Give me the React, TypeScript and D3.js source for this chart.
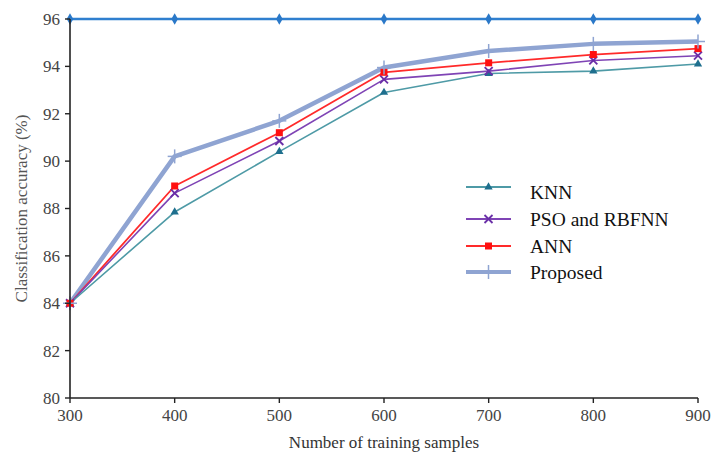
import React from "react";
import * as d3 from "d3";

const samples = [300, 400, 500, 600, 700, 800, 900];
const knn = [84, 87.85, 90.4, 92.9, 93.7, 93.8, 94.1];
const psoRbfnn = [84, 88.65, 90.85, 93.45, 93.8, 94.25, 94.45];
const ann = [84, 88.95, 91.2, 93.75, 94.15, 94.5, 94.75];
const proposed = [84, 90.2, 91.7, 93.95, 94.65, 94.95, 95.05];
const topLine = [96, 96, 96, 96, 96, 96, 96];
const yTicks = [80, 82, 84, 86, 88, 90, 92, 94, 96];
const xTicks = [300, 400, 500, 600, 700, 800, 900];

const W = 712, H = 455;
const L = 70, R = 698, T = 19, B = 398;

const series = [
  { name: "KNN", values: knn, color: "#4e9aa6", mcolor: "#1e6f8e", width: 1.6, marker: "tri" },
  { name: "PSO and RBFNN", values: psoRbfnn, color: "#7f44b5", mcolor: "#6a2fa8", width: 1.6, marker: "x" },
  { name: "ANN", values: ann, color: "#ff2a2a", mcolor: "#ff1010", width: 1.8, marker: "sq" },
  { name: "Proposed", values: proposed, color: "#8fa4d2", mcolor: "#8fa4d2", width: 4.5, marker: "plus" },
];

function Marker({ type, x, y, color }: { type: string; x: number; y: number; color: string }) {
  if (type === "tri") {
    const s = d3.symbol(d3.symbolTriangle, 30)();
    return <path d={s || ""} transform={`translate(${x},${y})`} fill={color} />;
  }
  if (type === "sq") {
    return <rect x={x - 3.5} y={y - 3.5} width={7} height={7} fill={color} />;
  }
  if (type === "x") {
    return (
      <g stroke={color} strokeWidth={1.8}>
        <line x1={x - 4} y1={y - 4} x2={x + 4} y2={y + 4} />
        <line x1={x - 4} y1={y + 4} x2={x + 4} y2={y - 4} />
      </g>
    );
  }
  if (type === "plus") {
    return (
      <g stroke={color} strokeWidth={1.5}>
        <line x1={x} y1={y - 7} x2={x} y2={y + 7} />
        <line x1={x - 7} y1={y} x2={x + 7} y2={y} />
      </g>
    );
  }
  if (type === "dia") {
    const s = d3.symbol(d3.symbolDiamond, 38)();
    return <path d={s || ""} transform={`translate(${x},${y})`} fill={color} />;
  }
  return null;
}

export default function App() {
  const x = d3.scaleLinear().domain([300, 900]).range([L, R]);
  const y = d3.scaleLinear().domain([80, 96]).range([B, T]);
  const line = d3
    .line<number>()
    .x((_, i) => x(samples[i]))
    .y((d) => y(d));

  const order = [0, 1, 2, 3];
  const legendRows = [192, 219, 246, 272];
  const font = "'Liberation Serif', 'Times New Roman', serif";

  return (
    <svg width={W} height={H} style={{ position: "absolute", left: 0, top: 0, background: "#fff" }}>
      <rect width={W} height={H} fill="#fff" />
      {[3, 2, 1, 0].map((k) => {
        const s = series[k];
        return (
          <g key={s.name}>
            <path d={line(s.values) || ""} fill="none" stroke={s.color} strokeWidth={s.width} strokeLinejoin="round" />
          </g>
        );
      })}
      {order.map((k) => {
        const s = series[k];
        return (
          <g key={s.name + "m"}>
            {s.values.map((v, i) => (
              <Marker key={i} type={s.marker} x={x(samples[i])} y={y(v)} color={s.mcolor} />
            ))}
          </g>
        );
      })}
      <path d={line(topLine) || ""} fill="none" stroke="#2f7fcf" strokeWidth={2.5} />
      {topLine.map((v, i) => (
        <Marker key={i} type="dia" x={x(samples[i])} y={y(v)} color="#2a78c8" />
      ))}
      <line x1={L} y1={T} x2={L} y2={B} stroke="#222" strokeWidth={1.6} />
      <line x1={L} y1={B} x2={R} y2={B} stroke="#222" strokeWidth={1.6} />
      {yTicks.map((t) => (
        <g key={t}>
          <line x1={L - 5} x2={L} y1={y(t)} y2={y(t)} stroke="#222" strokeWidth={1.4} />
          <text x={L - 10} y={y(t)} dy="0.35em" textAnchor="end" fontFamily={font} fontSize={17} fill="#444">
            {t}
          </text>
        </g>
      ))}
      {xTicks.map((t) => (
        <g key={t}>
          <line x1={x(t)} x2={x(t)} y1={B} y2={B + 5} stroke="#222" strokeWidth={1.4} />
          <text x={x(t)} y={B + 23} textAnchor="middle" fontFamily={font} fontSize={17} fill="#444">
            {t}
          </text>
        </g>
      ))}
      <text x={(L + R) / 2} y={448} textAnchor="middle" fontFamily={font} fontSize={17} fill="#333">
        Number of training samples
      </text>
      <text
        transform={`translate(${21},${(T + B) / 2}) rotate(-90)`}
        textAnchor="middle"
        dy="0.35em"
        fontFamily={font}
        fontSize={17}
        fill="#555"
      >
        Classification accuracy (%)
      </text>
      {order.map((k, j) => {
        const s = series[k];
        const ly = legendRows[j] - (j === 0 ? 5 : 0);
        return (
          <g key={s.name + "l"}>
            <line x1={466} x2={511} y1={ly} y2={ly} stroke={s.color} strokeWidth={k === 3 ? 4 : 1.8} />
            <Marker type={s.marker} x={488.5} y={ly} color={s.mcolor} />
            <text x={530} y={legendRows[j]} dy="0.35em" fontFamily={font} fontSize={19.5} fill="#111">
              {s.name}
            </text>
          </g>
        );
      })}
    </svg>
  );
}
